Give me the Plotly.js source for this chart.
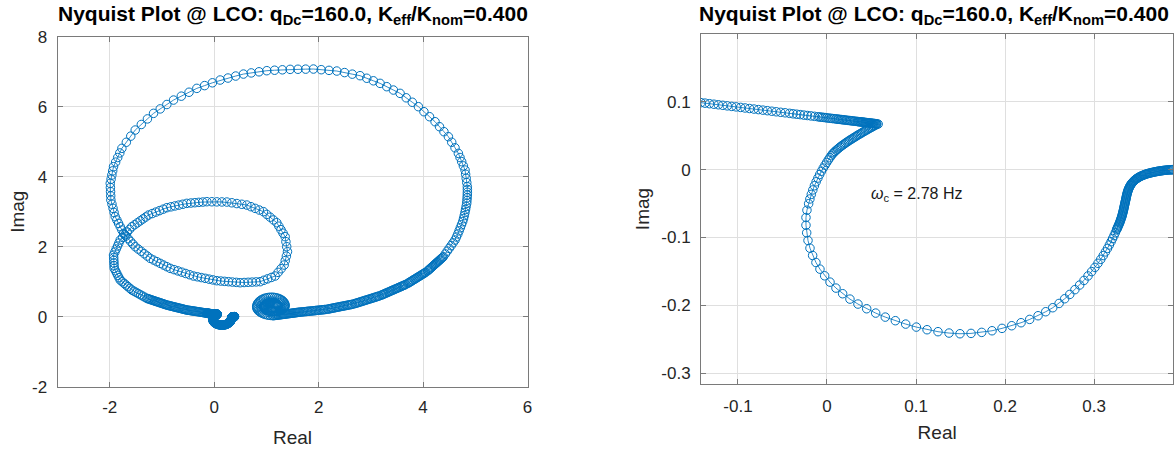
<!DOCTYPE html>
<html><head><meta charset="utf-8">
<script src="https://cdn.plot.ly/plotly-3.0.1.min.js"></script>
<style>html,body{margin:0;padding:0;background:#fff}#chart{width:1175px;height:452px}</style>
</head><body><div id="chart"></div>
<script>
// ---- Data (Real, Imag) ----
// small spiral at the low-frequency end + tail
const curlX = [1.220,1.221,1.222,1.219,1.216,1.2095,1.203,1.192,1.181,1.167,1.153,1.1365,1.120,1.102,1.084,1.0655,1.047,1.030,1.013,0.9985,0.984,0.9735,0.963,0.957,0.951,0.9515,0.952,0.958,0.964,0.9765,0.989,1.0065,1.024,1.0465,1.069,1.0945,1.120,1.147,1.174,1.2005,1.227,1.2515,1.276,1.2955,1.315,1.3295,1.344,1.3505,1.357,1.356,1.355,1.345,1.335,1.3175,1.300,1.275,1.250,1.2195,1.189,1.1545,1.120,1.084,1.048,1.0135,0.979,0.9475,0.916,0.8905,0.865,0.8475,0.830,0.822,0.814,0.8165,0.819,0.832,0.845,0.8685,0.892,0.924,0.956,0.9945,1.033,1.0765,1.120,
  1.14,1.16,1.18,1.20,1.22,1.24,1.26,1.28,1.30,1.32,1.34,1.36,1.38,1.40,1.42,1.44,1.46,1.48,1.50,1.52,1.54,1.56,1.58,1.60,1.62,1.64];
const curlY = [0.300,0.3095,0.319,0.3295,0.340,0.350,0.360,0.3685,0.377,0.384,0.391,0.395,0.399,0.3995,0.400,0.397,0.394,0.387,0.380,0.3695,0.359,0.3455,0.332,0.316,0.300,0.283,0.266,0.249,0.232,0.216,0.200,0.1865,0.173,0.1635,0.154,0.149,0.144,0.1445,0.145,0.151,0.157,0.1685,0.180,0.1965,0.213,0.2335,0.254,0.277,0.300,0.3275,0.355,0.3855,0.416,0.442,0.468,0.4895,0.511,0.526,0.541,0.5485,0.556,0.554,0.552,0.542,0.532,0.5125,0.493,0.466,0.439,0.406,0.373,0.3365,0.300,0.268,0.236,0.2055,0.175,0.147,0.119,0.0965,0.074,0.059,0.044,0.037,0.030,
  0.031,0.035,0.039,0.042,0.046,0.050,0.054,0.058,0.062,0.066,0.070,0.074,0.078,0.082,0.086,0.090,0.094,0.098,0.102,0.106,0.110,0.114,0.118,0.122,0.126,0.130];
// large outer loop
const outerX = [1.665,1.69,1.715,1.74,1.765,1.79,1.815,1.84,1.865,1.89,1.915,1.94,1.965,1.99,2.015,2.04,2.065,2.09,2.115,2.14,
  2.178,2.20,2.225,2.25,2.275,2.30,2.325,2.35,2.375,2.40,2.425,2.45,2.475,2.50,2.525,2.55,2.575,2.60,2.625,2.65,
  2.688,2.71,2.735,2.76,2.785,2.81,2.835,2.86,2.885,2.91,2.935,2.96,2.985,3.01,3.035,3.06,3.085,3.11,3.135,3.16,
  3.20,3.22,3.2425,3.265,3.2875,3.31,3.3325,3.355,3.3775,3.40,3.4225,3.445,3.4675,3.49,3.5125,3.535,3.5575,3.58,3.6025,3.625,3.6475,3.67,
  3.707,3.727,3.747,3.767,3.787,3.807,3.827,3.847,3.867,3.887,3.907,3.927,3.947,3.967,3.987,4.007,4.027,4.047,
  4.088,4.105,4.123,4.14,4.158,4.175,4.193,4.21,4.228,4.245,4.263,4.28,4.298,4.315,4.333,4.35,4.37,4.389,
  4.426,4.463,4.500,4.538,4.575,4.612, 4.640,4.666,4.690,4.713,4.736,4.759, 4.775,4.789,4.802,4.814,4.825,4.836, 4.840,4.844,4.847,4.849,4.849,4.848,
  4.837,4.826,4.815,4.804, 4.772,4.740,4.708,4.676, 4.612,4.549,4.485, 4.400,4.315,4.230, 4.124,4.017,3.911, 3.794,3.677,3.560, 3.432,3.305,3.177, 3.049,2.922,2.794, 2.645,2.497,2.348, 2.199,2.050,1.901, 1.752,1.604,1.455, 1.306,1.157,1.008, 0.859,0.710,0.561, 0.412,0.264,0.115, -0.034,-0.183,-0.332, -0.481,-0.629,-0.778, -0.906,-1.033,-1.161, -1.278,-1.395,-1.512, -1.597,-1.682,-1.767, -1.807,-1.847,-1.887,-1.927, -1.943,-1.959,-1.974,-1.990, -1.987,-1.984,-1.981,-1.978, -1.957,-1.936,-1.916,-1.895, -1.863,-1.831,-1.799,-1.767,-1.735, -1.690,-1.646,-1.601,-1.557,-1.512];
const outerY = [0.133,0.137,0.141,0.145,0.149,0.153,0.157,0.160,0.164,0.168,0.172,0.176,0.180,0.184,0.188,0.192,0.196,0.200,0.204,0.208,
  0.2165,0.223,0.231,0.238,0.246,0.253,0.260,0.268,0.275,0.283,0.290,0.297,0.305,0.312,0.320,0.327,0.335,0.342,0.349,0.357,
  0.372,0.382,0.394,0.405,0.417,0.429,0.440,0.452,0.464,0.475,0.487,0.499,0.511,0.522,0.534,0.546,0.557,0.569,0.581,0.592,
  0.615,0.628,0.643,0.657,0.672,0.687,0.701,0.716,0.731,0.746,0.760,0.775,0.790,0.804,0.819,0.834,0.849,0.863,0.878,0.893,0.907,0.922,
  0.951,0.970,0.988,1.007,1.025,1.044,1.062,1.080,1.099,1.117,1.136,1.154,1.173,1.191,1.210,1.228,1.247,1.265,
  1.310,1.333,1.357,1.380,1.404,1.427,1.451,1.474,1.498,1.521,1.545,1.568,1.592,1.615,1.639,1.662,1.689,1.714,
  1.793,1.873,1.952,2.031,2.111,2.19, 2.277,2.364,2.452,2.539,2.627,2.714, 2.801,2.889,2.976,3.063,3.151,3.238, 3.317,3.397,3.476,3.555,3.635,3.714,
  3.833,3.952,4.071,4.19, 4.309,4.429,4.548,4.667, 4.826,4.984,5.143, 5.286,5.428,5.571, 5.714,5.857,6.0, 6.127,6.254,6.381, 6.476,6.572,6.667, 6.740,6.813,6.886, 6.930,6.975,7.019, 7.038,7.057,7.076, 7.073,7.070,7.067, 7.054,7.042,7.029, 6.997,6.965,6.933, 6.876,6.819,6.762, 6.683,6.603,6.524, 6.413,6.301,6.19, 6.063,5.937,5.81, 5.651,5.492,5.333, 5.159,4.984,4.81, 4.679,4.548,4.417,4.286, 4.167,4.048,3.929,3.81, 3.691,3.572,3.452,3.333, 3.214,3.095,2.976,2.857, 2.762,2.667,2.571,2.476,2.381, 2.305,2.229,2.152,2.076,2.0];
// inner loop and band back toward the origin
const innerX = [-1.455,-1.397,-1.340,-1.282,-1.225, -1.161,-1.097,-1.034,-0.970,-0.906,-0.842, -0.768,-0.693,-0.619,-0.545,-0.470,-0.396, -0.321,-0.247,-0.172,-0.098,-0.023,0.051, 0.126,0.200,0.275,0.349,0.424,0.498, 0.574,0.651,0.727,0.804,0.880, 0.952,1.023,1.095,1.167, 1.225,1.282,1.340, 1.361,1.383,1.404, 1.389,1.374,1.359, 1.319,1.279,1.239,1.199, 1.135,1.072,1.008,0.944, 0.864,0.785,0.705,0.625, 0.529,0.434,0.338,0.242, 0.147,0.051,-0.044,-0.140, -0.217,-0.293,-0.370,-0.446,-0.523, -0.600,-0.676,-0.753,-0.829,-0.906, -0.976,-1.046,-1.116,-1.187,-1.257, -1.310,-1.363,-1.417,-1.470,-1.523,-1.576, -1.621,-1.665,-1.710,-1.754,-1.799, -1.825,-1.850,-1.876,-1.901,-1.927, -1.924,-1.922,-1.919,-1.917,-1.914, -1.891,-1.868,-1.845,-1.822,-1.799, -1.762,-1.725,-1.688,-1.650,-1.613,-1.576, -1.535,-1.494,-1.453,-1.412,-1.371,-1.330,-1.289,
  -1.2675,-1.246,-1.225,-1.204,-1.1825,-1.161,-1.140,-1.119,-1.0975,-1.076,-1.055,-1.034,-1.0125,-0.991,-0.970,-0.949,-0.9275,-0.906,
  -0.8845,-0.863,-0.842,-0.821,-0.7995,-0.778,-0.757,-0.736,-0.7145,-0.693,-0.672,-0.651,-0.6295,-0.608,-0.587,-0.566,-0.5445,-0.523,
  -0.502,-0.481,-0.4595,-0.438,-0.417,-0.396,-0.3745,-0.353,-0.332,-0.311,-0.2895,-0.268,
  -0.247,-0.226,-0.205,-0.184,-0.163];
const innerY = [1.933,1.867,1.800,1.733,1.667, 1.619,1.572,1.524,1.476,1.429,1.381, 1.345,1.308,1.272,1.235,1.199,1.162, 1.140,1.118,1.096,1.073,1.051,1.029, 1.019,1.010,1.000,0.990,0.981,0.971, 0.977,0.983,0.988,0.994,1.000, 1.041,1.081,1.122,1.162, 1.267,1.371,1.476, 1.603,1.730,1.857, 2.000,2.143,2.286, 2.386,2.486,2.586,2.686, 2.765,2.843,2.922,3.000, 3.048,3.095,3.143,3.190, 3.212,3.233,3.255,3.276, 3.279,3.281,3.284,3.286, 3.276,3.267,3.257,3.248,3.238, 3.213,3.188,3.164,3.139,3.114, 3.072,3.030,2.989,2.947,2.905, 2.849,2.794,2.738,2.682,2.627,2.571, 2.495,2.419,2.343,2.266,2.190, 2.104,2.019,1.933,1.848,1.762, 1.686,1.610,1.533,1.457,1.381, 1.314,1.248,1.181,1.115,1.048, 1.000,0.953,0.905,0.857,0.810,0.762, 0.728,0.694,0.660,0.626,0.592,0.558,0.524,
  0.5135,0.503,0.4925,0.482,0.471,0.460,0.4495,0.439,0.4285,0.418,0.4075,0.397,0.3865,0.376,0.365,0.354,0.3435,0.333,
  0.325,0.317,0.309,0.301,0.293,0.285,0.277,0.269,0.2615,0.254,0.246,0.238,0.230,0.222,0.214,0.206,0.198,0.190,
  0.1855,0.181,0.176,0.171,0.1665,0.162,0.157,0.152,0.1475,0.143,0.138,0.133,
  0.1275,0.122,0.116,0.110,0.104];
// high-frequency part near the origin (shown zoomed in the right panel)
const nearX = [-0.1415,-0.137,-0.132,-0.127,-0.122,-0.117,-0.112,-0.107,-0.102,-0.097,-0.092,-0.087,-0.082,-0.077,-0.072,-0.067,-0.062,-0.057,-0.052,-0.047,-0.042,-0.038,-0.034,-0.030,-0.026,-0.022,-0.018,-0.014,
  -0.010,-0.008,-0.006,-0.004,-0.002,0.000,0.002,0.004,0.006,0.008,0.010,0.0115,0.013,0.0145,0.016,0.0175,0.019,0.0205,0.022,0.0235,0.025,0.0265,0.028,0.0295,0.031,0.0325,0.034,0.035,0.036,0.037,0.038,0.039,0.040,0.041,0.042,0.043,0.044,0.045,0.046,0.047,0.048,0.049,0.050,0.051,0.052,0.053,0.054,0.055,0.056,0.0575,
  0.0555,0.0540,0.0525,0.0510,0.0495,0.0480,0.0465,0.0450,0.0435,0.0420,0.0405,0.0390,0.0375,0.0360,0.0345,0.0330,0.0315,0.0300,0.0285,0.0270,0.0255,0.0240,0.0225,0.0210,0.0195,0.0180,0.0165,0.0150,0.0135,0.0120,0.0105,0.0090,0.0076,0.0062,
  0.0048,0.0032,0.0015,-0.0003,-0.0022,-0.0042,-0.0062,-0.0082,-0.0102,-0.0122,-0.0141,-0.0159,-0.0176,-0.0192,-0.0206,
  -0.0225,-0.0236,-0.0236,-0.0228,-0.0213,-0.0191,-0.0161,-0.0124,-0.0079,-0.0026,0.0034,0.0101,0.0176,0.0258,0.0348,0.0446,0.0547,0.0655,0.0768,0.0884,0.1004,0.1124,0.1247,0.1371,0.1494,0.1618,0.1738,0.1854,0.1966,0.2075,0.2180,0.2277,0.2371,0.2457,0.2536,0.2607,0.2670,0.2727,
  0.2785,0.2838,0.2887,0.2932,0.2973,0.3010,0.3044,0.3075,0.3103,0.3128,0.3151,0.3172,0.3191,0.3208,0.3224,0.3239,0.3252,
  0.3257,0.3262,0.3267,0.3272,0.3277,0.3282,0.3287,0.3291,0.3295,0.3299,0.3303,0.3307,0.3311,0.3314,0.3317,0.3320,0.3323,0.3326,0.3329,0.3331,0.3334,0.3336,0.3339,0.3341,0.3344,0.3346,0.3349,0.3351,0.3354,0.3356,0.3359,0.3361,0.3364,0.3366,0.3369,0.3372,0.3375,0.3378,0.3382,0.3385,0.3389,0.3393,0.3398,0.3402,0.3407,0.3412,0.3418,0.3423,0.3429,0.3435,0.3442,0.3448,0.3455,0.3462,0.3470,0.3477,0.3485,0.3493,0.3502,0.3510,0.3519,0.3528,0.3538,0.3547,0.3557,0.3566,0.3576,0.3586,0.3596,0.3606,0.3617,0.3627,0.3638,0.3648,0.3659,0.3669,0.3680,0.3690,0.3701,0.3711,0.3722,0.3732,0.3743,0.3753,0.3764,0.3774,0.3785,0.3795,0.3806,0.3816,0.3827,0.3837,0.3848,0.3858,0.3867,0.3875,0.3883,0.3890];
const nearY = [0.0985,0.0978,0.0970,0.0962,0.0954,0.0946,0.0938,0.0930,0.0923,0.0915,0.0907,0.0899,0.0891,0.0883,0.0875,0.0867,0.0859,0.0851,0.0843,0.0836,0.0828,0.0821,0.0815,0.0809,0.0802,0.0796,0.0790,0.0784,
  0.0777,0.0774,0.0771,0.0768,0.0765,0.0761,0.0758,0.0755,0.0752,0.0749,0.0746,0.0743,0.0741,0.0739,0.0736,0.0734,0.0732,0.0729,0.0727,0.0724,0.0722,0.0720,0.0717,0.0715,0.0713,0.0710,0.0708,0.0706,0.0705,0.0703,0.0702,0.0700,0.0699,0.0697,0.0695,0.0694,0.0692,0.0691,0.0689,0.0687,0.0686,0.0684,0.0683,0.0681,0.0680,0.0678,0.0677,0.0675,0.0674,0.0670,
  0.0662,0.0651,0.0641,0.0630,0.0619,0.0608,0.0597,0.0586,0.0575,0.0563,0.0552,0.0540,0.0529,0.0517,0.0505,0.0493,0.0481,0.0469,0.0456,0.0444,0.0431,0.0418,0.0405,0.0392,0.0378,0.0364,0.0350,0.0335,0.0319,0.0302,0.0285,0.0267,0.0249,0.0230,
  0.0205,0.0175,0.0142,0.0105,0.0065,0.0022,-0.0024,-0.0073,-0.0125,-0.0180,-0.0238,-0.0300,-0.0365,-0.0433,-0.0503,
  -0.0598,-0.0706,-0.0819,-0.0931,-0.1044,-0.1157,-0.1265,-0.1368,-0.1466,-0.1564,-0.1657,-0.1745,-0.1828,-0.1907,-0.1980,-0.2049,-0.2113,-0.2172,-0.2225,-0.2275,-0.2319,-0.2358,-0.2387,-0.2407,-0.2417,-0.2412,-0.2397,-0.2373,-0.2338,-0.2299,-0.2255,-0.2206,-0.2152,-0.2093,-0.2034,-0.1971,-0.1902,-0.1838,
  -0.1768,-0.1700,-0.1632,-0.1566,-0.1502,-0.1440,-0.1380,-0.1322,-0.1266,-0.1212,-0.1160,-0.1110,-0.1062,-0.1016,-0.0972,-0.0930,-0.0889,
  -0.0875,-0.0860,-0.0845,-0.0830,-0.0815,-0.0800,-0.0785,-0.0770,-0.0755,-0.0740,-0.0725,-0.0710,-0.0695,-0.0680,-0.0665,-0.0650,-0.0635,-0.0620,-0.0605,-0.0590,-0.0575,-0.0560,-0.0545,-0.0530,-0.0515,-0.0500,-0.0485,-0.0470,-0.0455,-0.0440,-0.0425,-0.0410,-0.0395,-0.0380,-0.0365,-0.0350,-0.0336,-0.0322,-0.0308,-0.0295,-0.0282,-0.0270,-0.0258,-0.0246,-0.0235,-0.0224,-0.0213,-0.0203,-0.0193,-0.0184,-0.0175,-0.0166,-0.0158,-0.0150,-0.0142,-0.0135,-0.0128,-0.0121,-0.0114,-0.0108,-0.0102,-0.0096,-0.0090,-0.0085,-0.0080,-0.0075,-0.0070,-0.0066,-0.0062,-0.0058,-0.0054,-0.0051,-0.0047,-0.0044,-0.0041,-0.0038,-0.0035,-0.0032,-0.0029,-0.0027,-0.0024,-0.0022,-0.0020,-0.0018,-0.0016,-0.0014,-0.0012,-0.0011,-0.0009,-0.0008,-0.0006,-0.0005,-0.0004,-0.0003,-0.0002,-0.0002,-0.0001,-0.0001];

const leftTicksX = [-2, 0, 2, 4, 6];
const leftTickTextX = ['-2', '0', '2', '4', '6'];
const leftTicksY = [-2, 0, 2, 4, 6, 8];
const leftTickTextY = ['-2', '0', '2', '4', '6', '8'];
const rightTicksX = [-0.1, 0, 0.1, 0.2, 0.3];
const rightTickTextX = ['-0.1', '0', '0.1', '0.2', '0.3'];
const rightTicksY = [-0.3, -0.2, -0.1, 0, 0.1];
const rightTickTextY = ['-0.3', '-0.2', '-0.1', '0', '0.1'];
const titleText = '<b>Nyquist Plot @ LCO: q<sub>Dc</sub>=160.0, K<sub>eff</sub>/K<sub>nom</sub>=0.400</b>';
const crossLabel = '<i>ω</i><sub>c</sub> = 2.78 Hz';
const crossPos = [0.047, -0.036];

const allX = [].concat(curlX, outerX, innerX, nearX);
const allY = [].concat(curlY, outerY, innerY, nearY);

const blue = '#0072BD';
const FONT = 'Arial, "Liberation Sans", Helvetica, sans-serif';
const marker = {symbol: 'circle-open', size: 8.5, color: blue, line: {width: 1, color: blue}};
const traces = [
  {x: allX, y: allY, xaxis: 'x', yaxis: 'y', type: 'scatter', mode: 'lines+markers',
   line: {color: blue, width: 0.8}, marker: marker, showlegend: false, hoverinfo: 'skip'},
  {x: nearX, y: nearY, xaxis: 'x2', yaxis: 'y2', type: 'scatter', mode: 'lines+markers',
   line: {color: blue, width: 0.8}, marker: marker, showlegend: false, hoverinfo: 'skip'}
];

const W = 1175, H = 452;
function ax(extra) {
  return Object.assign({
    showgrid: true, gridcolor: '#dfdfdf', gridwidth: 1, zeroline: false,
    showline: true, linecolor: '#7a7a7a', linewidth: 1, mirror: 'ticks',
    ticks: 'inside', ticklen: 5, tickwidth: 1, tickcolor: '#7a7a7a',
    tickfont: {family: FONT, size: 17, color: '#262626'},
    automargin: false, fixedrange: true, tickmode: 'array'
  }, extra);
}
const axisTitleFont = {family: FONT, size: 19, color: '#262626'};
const layout = {
  width: W, height: H, margin: {l: 0, r: 0, t: 0, b: 0},
  paper_bgcolor: '#ffffff', plot_bgcolor: '#ffffff', showlegend: false,
  font: {family: FONT, color: '#262626'},
  xaxis: ax({domain: [57.5 / W, 527.5 / W], range: [-3, 6], tickvals: leftTicksX, ticktext: leftTickTextX,
    anchor: 'y', ticklabelstandoff: 5, title: {text: 'Real', font: axisTitleFont, standoff: 14}}),
  yaxis: ax({domain: [1 - 386.7 / H, 1 - 36.7 / H], range: [-2, 8], tickvals: leftTicksY, ticktext: leftTickTextY,
    anchor: 'x', ticklabelstandoff: 6, title: {text: 'Imag', font: axisTitleFont, standoff: 2}}),
  xaxis2: ax({domain: [701 / W, 1173.3 / W], range: [-0.1415, 0.389],
    tickvals: rightTicksX, ticktext: rightTickTextX, anchor: 'y2', ticklabelstandoff: 7,
    title: {text: 'Real', font: axisTitleFont, standoff: 10}}),
  yaxis2: ax({domain: [1 - 384 / H, 1 - 34 / H], range: [-0.3157, 0.1996],
    tickvals: rightTicksY, ticktext: rightTickTextY, anchor: 'x2', ticklabelstandoff: 6,
    title: {text: 'Imag', font: axisTitleFont, standoff: 6}}),
  annotations: [
    {xref: 'paper', yref: 'paper', x: 292.5 / W, y: 1 - 15 / H, xanchor: 'center', yanchor: 'middle',
     text: titleText, showarrow: false, font: {family: FONT, size: 21, color: '#000000'}},
    {xref: 'paper', yref: 'paper', x: 934 / W, y: 1 - 15 / H, xanchor: 'center', yanchor: 'middle',
     text: titleText, showarrow: false, font: {family: FONT, size: 21, color: '#000000'}},
    {xref: 'x2', yref: 'y2', x: crossPos[0], y: crossPos[1], xanchor: 'left', yanchor: 'middle',
     text: crossLabel, showarrow: false, font: {family: FONT, size: 16, color: '#1a1a1a'}}
  ]
};
Plotly.newPlot('chart', traces, layout, {staticPlot: true, displayModeBar: false});
</script></body></html>
